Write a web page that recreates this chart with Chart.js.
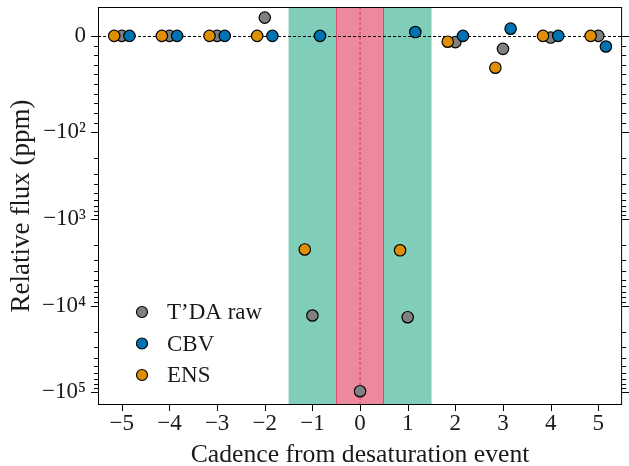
<!DOCTYPE html>
<html>
<head>
<meta charset="utf-8">
<script src="https://cdn.jsdelivr.net/npm/chart.js@4.4.1/dist/chart.umd.min.js"></script>
<style>
  html, body { margin: 0; padding: 0; background: #fff; }
  #wrap { width: 629px; height: 466px; }
</style>
</head>
<body>
<div id="wrap"><canvas id="fluxChart" width="629" height="466"></canvas></div>
<script>
// cadence offset from the desaturation event
const cadence = [-5, -4, -3, -2, -1, 0, 1, 2, 3, 4, 5];
// relative flux in ppm (null = no point)
const tdaRaw = [0, 0, 0, 19, -13000, -97000, -13600, -6.5, -13.5, -1.7, 0];
const cbv = [0, 0, 0, 0, 0, null, 4, 0, 7.5, 0, -11];
const ens = [0, 0, 0, 0, -2250, null, -2300, -6, -33, 0, 0];
const seriesLabels = ['T\u2019DA raw', 'CBV', 'ENS'];

const xTicks = [-5, -4, -3, -2, -1, 0, 1, 2, 3, 4, 5];
const yTicks = [-1e5, -1e4, -1e3, -1e2, 0];
const yTickLabels = ['\u221210\u2075', '\u221210\u2074', '\u221210\u00b3', '\u221210\u00b2', '0'];

const desatBand = [-0.5, 0.5];
const nearBand = [-1.5, 1.5];

const FONT = '"Liberation Serif", "DejaVu Serif", serif';

// matplotlib style symlog, base 10, linthresh 100, linscale 1
const LINTHRESH = 100;
const LINSCALE = 1 / (1 - 1 / 10);
function symlog(v) {
    const a = Math.abs(v);
    const t = a <= LINTHRESH ? a * LINSCALE / LINTHRESH : LINSCALE + Math.log10(a / LINTHRESH);
    return Math.sign(v) * t;
}
function symexp(t) {
    const a = Math.abs(t);
    const v = a <= LINSCALE ? a * LINTHRESH / LINSCALE : LINTHRESH * Math.pow(10, a - LINSCALE);
    return Math.sign(t) * v;
}

class SymlogScale extends Chart.Scale {
    static id = 'symlog';
    static defaults = {};
    parse(raw) {
        return raw === null || raw === undefined ? null : +raw;
    }
    determineDataLimits() {
        const mm = this.getMinMax(true);
        this.min = this.options.min !== undefined ? this.options.min : mm.min;
        this.max = this.options.max !== undefined ? this.options.max : mm.max;
    }
    buildTicks() {
        return yTicks.filter(v => v >= this.min && v <= this.max).map(v => ({ value: v }));
    }
    configure() {
        super.configure();
        this._tMin = symlog(this.min);
        this._tMax = symlog(this.max);
    }
    getLabelForValue(v) {
        return String(v);
    }
    getPixelForValue(v) {
        return this.getPixelForDecimal((symlog(v) - this._tMin) / (this._tMax - this._tMin));
    }
    getValueForPixel(p) {
        return symexp(this._tMin + this.getDecimalForPixel(p) * (this._tMax - this._tMin));
    }
}
Chart.register(SymlogScale);

function yMinorTicks() {
    const out = [];
    for (let k = 1; k < 10; k++) out.push(-k * 10);
    [1e2, 1e3, 1e4].forEach(d => {
        for (let k = 2; k < 10; k++) out.push(-k * d);
    });
    return out;
}

function points(values, shift) {
    const pts = [];
    values.forEach((v, i) => {
        if (v !== null) pts.push({ x: cadence[i] + shift, y: v });
    });
    return pts;
}

const axesDecor = {
    id: 'axesDecor',
    beforeDatasetsDraw(chart) {
        const { ctx, chartArea: a, scales: { x, y } } = chart;
        ctx.save();
        // bands
        ctx.fillStyle = 'rgba(2,158,115,0.5)';
        ctx.fillRect(x.getPixelForValue(nearBand[0]), a.top, x.getPixelForValue(desatBand[0]) - x.getPixelForValue(nearBand[0]), a.height);
        ctx.fillRect(x.getPixelForValue(desatBand[1]), a.top, x.getPixelForValue(nearBand[1]) - x.getPixelForValue(desatBand[1]), a.height);
        ctx.fillStyle = 'rgba(220,20,60,0.5)';
        const p0 = x.getPixelForValue(desatBand[0]), p1 = x.getPixelForValue(desatBand[1]);
        ctx.fillRect(p0, a.top, p1 - p0, a.height);
        ctx.strokeStyle = 'rgba(220,20,60,0.6)';
        ctx.lineWidth = 1;
        ctx.beginPath();
        ctx.moveTo(Math.round(p0) + 0.5, a.top); ctx.lineTo(Math.round(p0) + 0.5, a.bottom);
        ctx.moveTo(Math.round(p1) - 0.5, a.top); ctx.lineTo(Math.round(p1) - 0.5, a.bottom);
        ctx.stroke();
        // event line
        ctx.setLineDash([3, 2]);
        ctx.strokeStyle = 'rgba(220,20,60,0.9)';
        ctx.lineWidth = 0.8;
        const x0 = x.getPixelForValue(0);
        ctx.beginPath(); ctx.moveTo(x0, a.top); ctx.lineTo(x0, a.bottom); ctx.stroke();
        // zero line
        ctx.strokeStyle = '#000';
        ctx.lineWidth = 1;
        const y0 = Math.round(y.getPixelForValue(0)) + 0.5;
        ctx.beginPath(); ctx.moveTo(a.left, y0); ctx.lineTo(a.right, y0); ctx.stroke();
        ctx.restore();
    },
    afterDatasetsDraw(chart) {
        const { ctx, chartArea: a, scales: { x, y } } = chart;
        ctx.save();
        ctx.strokeStyle = '#000';
        ctx.lineWidth = 1;
        ctx.strokeRect(a.left + 0.5, a.top + 0.5, a.width - 1, a.height - 1);
        ctx.beginPath();
        xTicks.forEach(v => {
            const px = Math.round(x.getPixelForValue(v)) + 0.5;
            ctx.moveTo(px, a.bottom); ctx.lineTo(px, a.bottom + 6);
        });
        yTicks.forEach(v => {
            const py = Math.round(y.getPixelForValue(v)) + 0.5;
            ctx.moveTo(a.left - 7, py); ctx.lineTo(a.left, py);
            ctx.moveTo(a.right, py); ctx.lineTo(a.right + 7, py);
        });
        yMinorTicks().forEach(v => {
            if (v < y.min || v > y.max) return;
            const py = Math.round(y.getPixelForValue(v)) + 0.5;
            ctx.moveTo(a.left - 4, py); ctx.lineTo(a.left, py);
            ctx.moveTo(a.right, py); ctx.lineTo(a.right + 4, py);
        });
        ctx.stroke();
        // legend
        ctx.font = '23px ' + FONT;
        ctx.textBaseline = 'middle';
        ctx.textAlign = 'left';
        chart.data.datasets.forEach((ds, i) => {
            const cy = a.bottom - 93 + 31.5 * i;
            const cx = a.left + 44;
            ctx.beginPath();
            ctx.arc(cx, cy, 5.5, 0, Math.PI * 2);
            ctx.fillStyle = ds.backgroundColor;
            ctx.fill();
            ctx.lineWidth = 1.2;
            ctx.strokeStyle = '#000';
            ctx.stroke();
            ctx.fillStyle = '#1a1a1a';
            ctx.fillText(ds.label, a.left + 69, cy + 1);
        });
        ctx.restore();
    }
};

const pointStyle = { pointRadius: 5.7, pointHoverRadius: 5.7, borderColor: '#000', borderWidth: 1.2 };

function noPad(s) {
    s.paddingTop = 0;
    s.paddingBottom = 0;
    s.paddingLeft = 0;
    s.paddingRight = 0;
}

new Chart(document.getElementById('fluxChart').getContext('2d'), {
    type: 'scatter',
    data: {
        datasets: [
            Object.assign({ label: seriesLabels[0], data: points(tdaRaw, 0), backgroundColor: '#808080', order: 2 }, pointStyle),
            Object.assign({ label: seriesLabels[1], data: points(cbv, 0.16), backgroundColor: '#0173B2', order: 1 }, pointStyle),
            Object.assign({ label: seriesLabels[2], data: points(ens, -0.16), backgroundColor: '#DE8F05', order: 1 }, pointStyle)
        ]
    },
    options: {
        responsive: false,
        animation: false,
        devicePixelRatio: 1,
        layout: { padding: { top: 7, right: 2, left: 0, bottom: 0 } },
        plugins: {
            legend: { display: false },
            tooltip: { enabled: false }
        },
        scales: {
            x: {
                type: 'linear',
                min: -5.5,
                max: 5.5,
                afterFit: s => { s.height = 61; noPad(s); },
                afterBuildTicks: s => { s.ticks = xTicks.map(v => ({ value: v })); },
                grid: { display: false, drawTicks: false },
                border: { display: false },
                ticks: {
                    padding: 5,
                    color: '#1a1a1a',
                    font: { family: FONT, size: 23 },
                    callback: v => (v < 0 ? '\u2212' + Math.abs(v) : String(v))
                },
                title: {
                    display: true,
                    text: 'Cadence from desaturation event',
                    color: '#1a1a1a',
                    font: { family: FONT, size: 25.7, lineHeight: 0.86 },
                    padding: { top: 0, bottom: 0 }
                }
            },
            y: {
                type: 'symlog',
                position: 'left',
                min: -1.4e5,
                max: 30,
                afterFit: s => { s.width = 98; noPad(s); },
                grid: { display: false, drawTicks: false },
                border: { display: false },
                ticks: {
                    padding: 12,
                    color: '#1a1a1a',
                    font: { family: FONT, size: 23 },
                    callback: v => yTickLabels[yTicks.indexOf(v)]
                },
                title: {
                    display: true,
                    text: 'Relative flux (ppm)',
                    color: '#1a1a1a',
                    font: { family: FONT, size: 27, lineHeight: 1.2 },
                    padding: { top: 6, bottom: 0 }
                }
            }
        }
    },
    plugins: [axesDecor]
});
</script>
</body>
</html>
